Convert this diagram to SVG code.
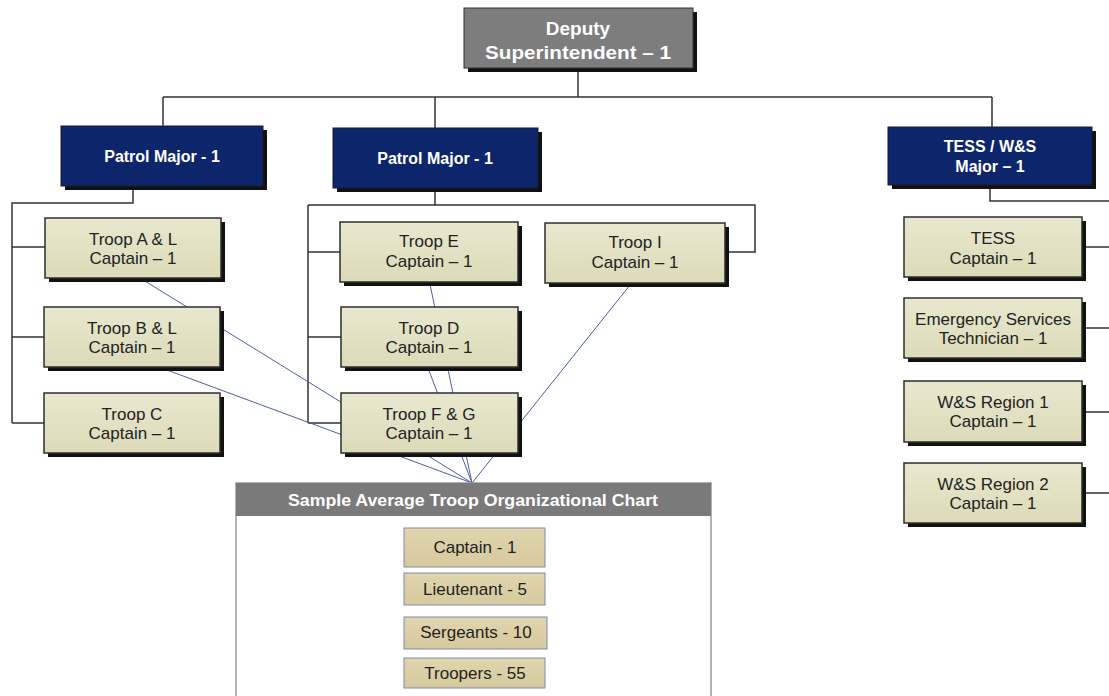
<svg xmlns="http://www.w3.org/2000/svg" width="1109" height="696" viewBox="0 0 1109 696">
<defs>
<linearGradient id="kh" x1="0" y1="0" x2="0" y2="1">
<stop offset="0" stop-color="#e9e8cf"/>
<stop offset="1" stop-color="#dcdab8"/>
</linearGradient>
<linearGradient id="tan" x1="0" y1="0" x2="0" y2="1">
<stop offset="0" stop-color="#e0d5ae"/>
<stop offset="1" stop-color="#d6c99e"/>
</linearGradient>
</defs>
<style>
.org{stroke:#333333;stroke-width:1.5;fill:none}
.blue{stroke:#4d5f9e;stroke-width:1;fill:none}
.sh{fill:#111}
.troop{fill:url(#kh);stroke:#2e2e2e;stroke-width:1.5}
.major{fill:#0d266b;stroke:#1a1a2a;stroke-width:1}
.top{fill:#7d7d7d;stroke:#333;stroke-width:1}
.wt{font-family:"Liberation Sans",Arial,sans-serif;font-weight:bold;fill:#ffffff;text-anchor:middle}
.tt{font-family:"Liberation Sans",Arial,sans-serif;font-size:17px;fill:#222;text-anchor:middle}
.inner{fill:url(#tan);stroke:#8088a8;stroke-width:1}
</style>
<rect width="1109" height="696" fill="#ffffff"/>
<g id="connectors">
<path class="org" d="M578 68V97M163 97H992M163 97V126M435 97V128M992 97V127"/>
<path class="org" d="M133 186V203H12V423M12 247H45M12 337H44M12 423H44"/>
<path class="org" d="M435 188V205M308 205H755V252H725M308 205V423M308 252H340M308 337H341M308 423H341"/>
<path class="org" d="M990 185V201H1109M1082 247H1109M1082 328H1109M1082 412H1109M1082 493H1109"/>
<path class="blue" d="M140 278L472 483M148 363L472 483M428 275L472 483M423 355L472 483M634 280L472 483"/>
<path class="blue" d="M476 567V573M476 605V617M476 649V658"/>
</g>
<g id="deputy">
<rect class="sh" x="468" y="12" width="229" height="60"/>
<rect class="top" x="464" y="8" width="229" height="60"/>
<text class="wt" x="578" y="35" font-size="19">Deputy</text>
<text class="wt" x="578" y="59" font-size="19" textLength="186" lengthAdjust="spacingAndGlyphs">Superintendent – 1</text>
</g>
<g id="major1">
<rect class="sh" x="65" y="130" width="202" height="60"/>
<rect class="major" x="61" y="126" width="202" height="60"/>
<text class="wt" x="162" y="162" font-size="16">Patrol Major - 1</text>
</g>
<g id="major2">
<rect class="sh" x="337" y="132" width="205" height="60"/>
<rect class="major" x="333" y="128" width="205" height="60"/>
<text class="wt" x="435" y="164" font-size="16">Patrol Major - 1</text>
</g>
<g id="major3">
<rect class="sh" x="892" y="131" width="204" height="58"/>
<rect class="major" x="888" y="127" width="204" height="58"/>
<text class="wt" x="990" y="152" font-size="16">TESS / W&amp;S</text>
<text class="wt" x="990" y="172" font-size="16">Major – 1</text>
</g>
<g id="troopAL">
<rect class="sh" x="49" y="222" width="176" height="60"/>
<rect class="troop" x="45" y="218" width="176" height="60"/>
<text class="tt" x="133" y="245">Troop A &amp; L</text>
<text class="tt" x="133" y="264">Captain – 1</text>
</g>
<g id="troopBL">
<rect class="sh" x="48" y="311" width="176" height="60"/>
<rect class="troop" x="44" y="307" width="176" height="60"/>
<text class="tt" x="132" y="334">Troop B &amp; L</text>
<text class="tt" x="132" y="353">Captain – 1</text>
</g>
<g id="troopC">
<rect class="sh" x="48" y="397" width="176" height="60"/>
<rect class="troop" x="44" y="393" width="176" height="60"/>
<text class="tt" x="132" y="420">Troop C</text>
<text class="tt" x="132" y="439">Captain – 1</text>
</g>
<g id="troopE">
<rect class="sh" x="344" y="226" width="178" height="60"/>
<rect class="troop" x="340" y="222" width="178" height="60"/>
<text class="tt" x="429" y="247">Troop E</text>
<text class="tt" x="429" y="267">Captain – 1</text>
</g>
<g id="troopD">
<rect class="sh" x="345" y="311" width="177" height="60"/>
<rect class="troop" x="341" y="307" width="177" height="60"/>
<text class="tt" x="429" y="334">Troop D</text>
<text class="tt" x="429" y="353">Captain – 1</text>
</g>
<g id="troopFG">
<rect class="sh" x="345" y="397" width="177" height="60"/>
<rect class="troop" x="341" y="393" width="177" height="60"/>
<text class="tt" x="429" y="420">Troop F &amp; G</text>
<text class="tt" x="429" y="439">Captain – 1</text>
</g>
<g id="troopI">
<rect class="sh" x="549" y="227" width="180" height="60"/>
<rect class="troop" x="545" y="223" width="180" height="60"/>
<text class="tt" x="635" y="248">Troop I</text>
<text class="tt" x="635" y="268">Captain – 1</text>
</g>
<g id="tess">
<rect class="sh" x="908" y="221" width="178" height="60"/>
<rect class="troop" x="904" y="217" width="178" height="60"/>
<text class="tt" x="993" y="244">TESS</text>
<text class="tt" x="993" y="264">Captain – 1</text>
</g>
<g id="est">
<rect class="sh" x="908" y="302" width="178" height="60"/>
<rect class="troop" x="904" y="298" width="178" height="60"/>
<text class="tt" x="993" y="325">Emergency Services</text>
<text class="tt" x="993" y="344">Technician – 1</text>
</g>
<g id="ws1">
<rect class="sh" x="908" y="385" width="178" height="61"/>
<rect class="troop" x="904" y="381" width="178" height="61"/>
<text class="tt" x="993" y="408">W&amp;S Region 1</text>
<text class="tt" x="993" y="427">Captain – 1</text>
</g>
<g id="ws2">
<rect class="sh" x="908" y="467" width="178" height="60"/>
<rect class="troop" x="904" y="463" width="178" height="60"/>
<text class="tt" x="993" y="490">W&amp;S Region 2</text>
<text class="tt" x="993" y="509">Captain – 1</text>
</g>
<g id="sample">
<rect x="236" y="483" width="475" height="220" fill="#ffffff" stroke="#9a9a9a" stroke-width="1.5"/>
<rect x="236" y="483" width="475" height="33" fill="#7a7a7a"/>
<text class="wt" x="473" y="506" font-size="16" textLength="370" lengthAdjust="spacingAndGlyphs">Sample Average Troop Organizational Chart</text>
</g>
<g id="captain">
<rect class="inner" x="404" y="528" width="141" height="39"/>
<text class="tt" x="475" y="553">Captain - 1</text>
</g>
<g id="lieutenant">
<rect class="inner" x="404" y="573" width="141" height="32"/>
<text class="tt" x="475" y="595">Lieutenant - 5</text>
</g>
<g id="sergeants">
<rect class="inner" x="404" y="617" width="143" height="32"/>
<text class="tt" x="476" y="638">Sergeants - 10</text>
</g>
<g id="troopers">
<rect class="inner" x="404" y="658" width="141" height="30"/>
<text class="tt" x="475" y="679">Troopers - 55</text>
</g>
</svg>
